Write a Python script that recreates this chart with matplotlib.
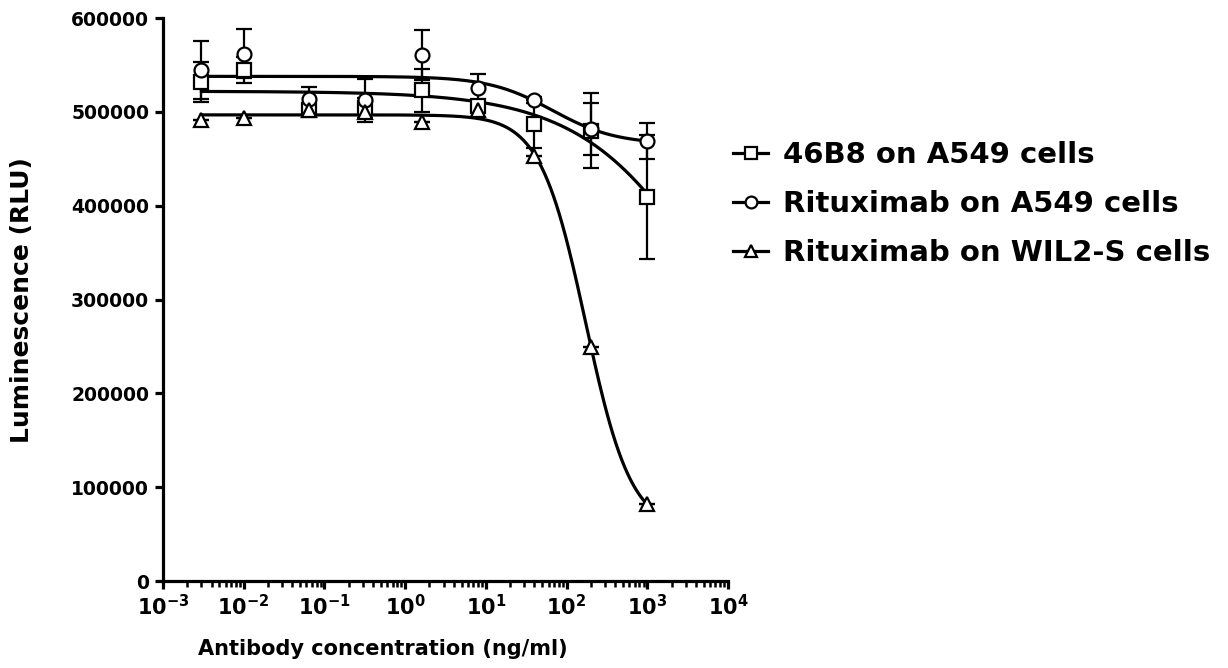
import numpy as np
import matplotlib
matplotlib.use("Agg")
import matplotlib.pyplot as plt
from matplotlib.lines import Line2D
from matplotlib.ticker import FuncFormatter, LogLocator, NullFormatter

plt.rcParams['font.family'] = 'DejaVu Sans'
plt.rcParams['font.weight'] = 'bold'
plt.rcParams['mathtext.fontset'] = 'dejavusans'

# antibody concentration (ng/ml)
conc = [0.003, 0.01, 0.064, 0.32, 1.6, 8, 40, 200, 1000]

# 46B8 on A549 cells
b46_mean = [532000, 545000, 502000, 504000, 523000, 506500, 487000, 480000, 409000]
b46_sd = [21000, 14000, 6000, 11000, 23000, 5000, 26000, 40000, 66000]

# Rituximab on A549 cells
rtx_a549_mean = [544500, 562000, 514000, 512500, 560500, 525000, 512500, 482000, 469000]
rtx_a549_sd = [31000, 26000, 13000, 23000, 27000, 15000, 3000, 28000, 19000]

# Rituximab on WIL2-S cells (error bars hidden behind the markers)
rtx_wil_mean = [491000, 494000, 502000, 500000, 489500, 502000, 453000, 250000, 82000]
rtx_wil_sd = [0, 0, 0, 0, 0, 0, 0, 0, 0]

labels = ["46B8 on A549 cells", "Rituximab on A549 cells", "Rituximab on WIL2-S cells"]
markers = ["s", "o", "^"]
msizes = [9.5, 10, 10]


def fit_4pl(x, y):
    # grid search on logEC50 / hill, top & bottom solved by least squares
    lx = np.log10(np.asarray(x, float))
    y = np.asarray(y, float)
    lec, h = np.meshgrid(np.linspace(-1, 4, 401), np.linspace(0.2, 3, 141))
    lec, h = lec.ravel()[:, None], h.ravel()[:, None]
    s = 1.0 / (1.0 + 10 ** ((lx[None, :] - lec) * h))
    u = 1 - s
    a11 = (s * s).sum(1); a12 = (s * u).sum(1); a22 = (u * u).sum(1)
    b1 = (s * y).sum(1); b2 = (u * y).sum(1)
    det = a11 * a22 - a12 ** 2
    det[np.abs(det) < 1e-12] = np.nan
    top = (b1 * a22 - b2 * a12) / det
    bot = (a11 * b2 - a12 * b1) / det
    res = ((top[:, None] * s + bot[:, None] * u - y) ** 2).sum(1)
    i = np.nanargmin(res)
    return top[i], bot[i], lec[i, 0], h[i, 0]


def curve(xx, p):
    top, bot, lec, h = p
    return bot + (top - bot) / (1 + 10 ** ((np.log10(xx) - lec) * h))


fig = plt.figure(figsize=(12.28, 6.68), dpi=100)
ax = fig.add_axes([0.1327, 0.130, 0.4601, 0.843])

xx = np.logspace(np.log10(conc[0]), np.log10(conc[-1]), 300)
series = [(b46_mean, b46_sd), (rtx_a549_mean, rtx_a549_sd), (rtx_wil_mean, rtx_wil_sd)]
for (m, sd), mk, ms in zip(series, markers, msizes):
    p = fit_4pl(conc, m)
    ax.plot(xx, curve(xx, p), color="black", lw=2.3, zorder=2)
    ax.errorbar(conc, m, yerr=sd, fmt="none", ecolor="black", elinewidth=1.6,
                capsize=5.5, capthick=1.6, zorder=3)
    ax.plot(conc, m, linestyle="none", marker=mk, markersize=ms,
            markerfacecolor="white", markeredgecolor="black", markeredgewidth=1.6, zorder=4)

ax.set_xscale("log")
ax.set_xlim(1e-3, 1e4)
ax.set_ylim(0, 600000)
ax.set_yticks(np.arange(0, 600001, 100000))
ax.yaxis.set_major_formatter(FuncFormatter(lambda v, p: "%d" % v))
ax.xaxis.set_major_locator(LogLocator(base=10, numticks=20))
ax.xaxis.set_minor_locator(LogLocator(base=10, subs=np.arange(2, 10), numticks=20))
ax.xaxis.set_minor_formatter(NullFormatter())
ax.xaxis.set_major_formatter(FuncFormatter(
    lambda v, p: r"$\mathbf{10^{%d}}$" % round(np.log10(v))))

for side in ["top", "right"]:
    ax.spines[side].set_visible(False)
for side in ["left", "bottom"]:
    ax.spines[side].set_linewidth(2.3)

ax.tick_params(axis="both", which="major", direction="out", length=6, width=2.3)
ax.tick_params(axis="y", which="major", labelsize=13.5, pad=4)
ax.tick_params(axis="x", which="major", labelsize=15, pad=3)
ax.tick_params(axis="x", which="minor", direction="out", length=4, width=1.8)
ax.tick_params(axis="y", which="minor", left=False)
for lab in ax.get_yticklabels():
    lab.set_fontweight("bold")

ax.set_xlabel("Antibody concentration (ng/ml)", fontsize=15, fontweight="bold")
ax.xaxis.set_label_coords(0.39, -0.103)
ax.set_ylabel("Luminescence (RLU)", fontsize=18, fontweight="bold")
ax.yaxis.set_label_coords(-0.228, 0.5)

handles = [Line2D([], [], color="black", lw=2.3, marker=mk, markersize=8.5,
                  markerfacecolor="white", markeredgecolor="black", markeredgewidth=1.6)
           for mk in markers]
fig.legend(handles, labels, loc="upper left", bbox_to_anchor=(0.597, 0.789),
           frameon=False, handlelength=1.2, handletextpad=0.5,
           labelspacing=0.72, borderaxespad=0, borderpad=0,
           prop={"weight": "bold", "size": 21})

fig.savefig("out.png", dpi=100)
